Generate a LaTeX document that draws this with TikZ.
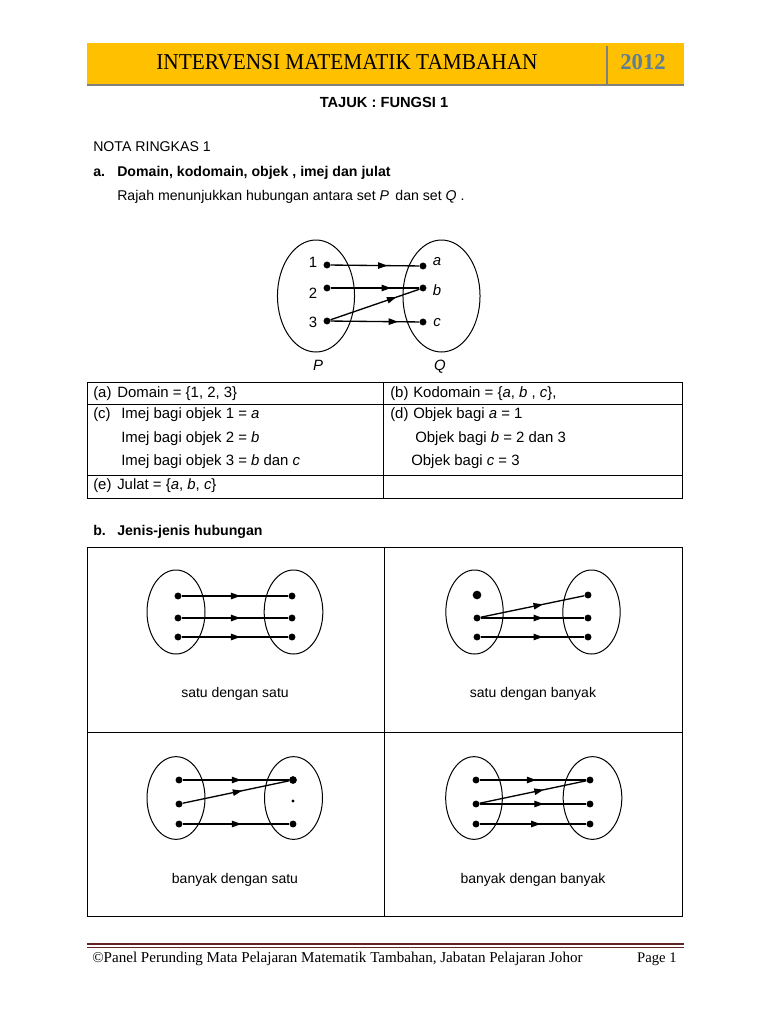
\documentclass[tikz,border=0pt]{standalone}
\usepackage{graphicx}
\usepackage{fontspec}
\setmainfont{Liberation Sans}
\newfontfamily\serifhd{Liberation Serif}
\usetikzlibrary{arrows.meta,decorations.markings}
\definecolor{hdryellow}{RGB}{255,192,0}
\definecolor{hdrgray}{RGB}{128,128,128}
\definecolor{yrblue}{RGB}{92,126,152}
\definecolor{ftred}{RGB}{99,36,35}
\tikzset{
 dotnode/.style={circle,fill=black,inner sep=0pt,minimum size=5.2pt},
 arr/.style={line width=1pt, decoration={markings,mark=at position #1 with {\arrow{Triangle[length=7pt,width=4.8pt]}}}, postaction={decorate}},
 arr/.default=0.55,
 setell/.style={line width=0.75pt},
 rule/.style={line width=0.75pt},
 txt/.style={anchor=base west,inner sep=0pt,font=\fontsize{10.6}{13}\selectfont},
 btxt/.style={anchor=base west,inner sep=0pt,font=\fontsize{10.6}{13}\selectfont\bfseries},
 ttxt/.style={anchor=base west,inner sep=0pt,font=\fontsize{11.2}{14}\selectfont},
 lbl/.style={anchor=base,inner sep=0pt,font=\fontsize{11.2}{14}\selectfont},
 captxt/.style={anchor=base,inner sep=0pt,font=\fontsize{10.5}{13}\selectfont},
}
\begin{document}
\begin{tikzpicture}[x=0.75pt,y=-0.75pt]
\useasboundingbox[fill=white] (0,0) rectangle (768,1024);
% header
\fill[hdryellow] (87,43) rectangle (684,84);
\draw[hdrgray,line width=1.5pt] (87,85) -- (684,85);
\draw[hdrgray,line width=1.5pt] (607,46) -- (607,84);
\node[inner sep=0pt,font=\serifhd\fontsize{17}{20}\selectfont] (title) at (347,62) {\scalebox{0.94}[1]{INTERVENSI MATEMATIK TAMBAHAN}};
\node[inner sep=0pt,text=yrblue,font=\serifhd\fontsize{17}{20}\selectfont\bfseries] (year) at (643,62) {2012};
% headings
\node[anchor=base,inner sep=0pt,font=\fontsize{11}{13}\selectfont\bfseries] (tajuk) at (384,108) {TAJUK : FUNGSI 1};
\node[txt] (nota) at (93,151) {NOTA RINGKAS 1};
\node[btxt] (alab) at (93,176) {a.};
\node[btxt] (ahead) at (117,176) {Domain, kodomain, objek , imej dan julat};
\node[txt] (rajah) at (117,200) {Rajah menunjukkan hubungan antara set \textit{P}\, dan set \textit{Q} .};
% main diagram
\draw[setell] (316,296) ellipse [x radius=28.9pt, y radius=42pt];
\draw[setell] (441.5,296) ellipse [x radius=28.9pt, y radius=42pt];
\node[dotnode] (p1) at (327,265) {};
\node[dotnode] (p2) at (327,288) {};
\node[dotnode] (p3) at (327,321) {};
\node[dotnode] (qa) at (423,266) {};
\node[dotnode] (qb) at (423,288) {};
\node[dotnode] (qc) at (423,322) {};
\node[lbl] (l1) at (313,267) {1};
\node[lbl] (l2) at (313,298) {2};
\node[lbl] (l3) at (313,327) {3};
\node[lbl] (la) at (437,265) {\textit{a}};
\node[lbl] (lb) at (437,295) {\textit{b}};
\node[lbl] (lc) at (437,326) {\textit{c}};
\node[lbl] (lP) at (318,370) {\textit{P}};
\node[lbl] (lQ) at (440,370) {\textit{Q}};
\draw[arr=0.64] (p1) -- (qa);
\draw[arr=0.68] (p2) -- (qb);
\draw[arr=0.74] (p3) -- (qb);
\draw[arr=0.76] (p3) -- (qc);
% table
\draw[rule] (87,382) rectangle (682,498);
\draw[rule] (87,404) -- (682,404);
\draw[rule] (87,475) -- (682,475);
\draw[rule] (383,382) -- (383,498);
\node[ttxt] (ta) at (93,397) {(a)};
\node[ttxt] (tat) at (117,397) {Domain = \{1, 2, 3\}};
\node[ttxt] (tb) at (390,397) {(b)};
\node[ttxt] (tbt) at (413,397) {Kodomain = \{\textit{a}, \textit{b} , \textit{c}\},};
\node[ttxt] (tc) at (93,418) {(c)};
\node[ttxt] (tc1) at (121,418) {Imej bagi objek 1 = \textit{a}};
\node[ttxt] (tc2) at (121,442) {Imej bagi objek 2 = \textit{b}};
\node[ttxt] (tc3) at (121,465) {Imej bagi objek 3 = \textit{b} dan \textit{c}};
\node[ttxt] (td) at (390,418) {(d)};
\node[ttxt] (td1) at (413,418) {Objek bagi \textit{a} = 1};
\node[ttxt] (td2) at (415,442) {Objek bagi \textit{b} = 2 dan 3};
\node[ttxt] (td3) at (411,465) {Objek bagi \textit{c} = 3};
\node[ttxt] (te) at (93,489) {(e)};
\node[ttxt] (tet) at (117,489) {Julat = \{\textit{a}, \textit{b}, \textit{c}\}};
% part b
\node[btxt] (blab) at (93,535) {b.};
\node[btxt] (bhead) at (117,535) {Jenis-jenis hubungan};
\draw[rule] (87,547) rectangle (682,916);
\draw[rule] (384,547) -- (384,916);
\draw[rule] (87,732) -- (682,732);
% one to one
\draw[setell] (176,612) ellipse [x radius=21.75pt, y radius=31.5pt];
\draw[setell] (293.5,612) ellipse [x radius=22pt, y radius=31.5pt];
\node[dotnode] (a1) at (178,596) {};
\node[dotnode] (a2) at (178,618) {};
\node[dotnode] (a3) at (178,637) {};
\node[dotnode] (b1) at (292,596) {};
\node[dotnode] (b2) at (292,618) {};
\node[dotnode] (b3) at (292,637) {};
\draw[arr=0.55] (a1) -- (b1);
\draw[arr=0.55] (a2) -- (b2);
\draw[arr=0.55] (a3) -- (b3);
\node[captxt] (c1) at (235,697) {satu dengan satu};
% one to many
\draw[setell] (474.5,612) ellipse [x radius=21.5pt, y radius=31.5pt];
\draw[setell] (591.5,612) ellipse [x radius=21.5pt, y radius=31.5pt];
\node[dotnode,minimum size=6.5pt] (c1a) at (477,595) {};
\node[dotnode] (c1b) at (477,618) {};
\node[dotnode] (c1c) at (477,637) {};
\node[dotnode] (d1a) at (588,595) {};
\node[dotnode] (d1b) at (588,618) {};
\node[dotnode] (d1c) at (588,637) {};
\draw[arr=0.6] (c1b) -- (d1a);
\draw[arr=0.6] (c1b) -- (d1b);
\draw[arr=0.6] (c1c) -- (d1c);
\node[captxt] (c2) at (533,697) {satu dengan banyak};
% many to one
\draw[setell] (176,798) ellipse [x radius=21.75pt, y radius=31pt];
\draw[setell] (293.5,798) ellipse [x radius=21.75pt, y radius=31pt];
\node[dotnode] (e1) at (179,780) {};
\node[dotnode] (e2) at (179,804) {};
\node[dotnode] (e3) at (179,824) {};
\node[dotnode,minimum size=5.8pt] (f1) at (293,780) {};
\node[dotnode,minimum size=2.6pt] (f2) at (293,801) {};
\node[dotnode] (f3) at (293,824) {};
\draw[arr=0.55] (e1) -- (f1);
\draw[arr=0.56] (e2) -- (f1);
\draw[arr=0.55] (e3) -- (f3);
\node[captxt] (c3) at (235,883) {banyak dengan satu};
% many to many
\draw[setell] (474,798) ellipse [x radius=21.25pt, y radius=31pt];
\draw[setell] (592.5,798) ellipse [x radius=22pt, y radius=31pt];
\node[dotnode] (g1) at (476,780) {};
\node[dotnode] (g2) at (476,804) {};
\node[dotnode] (g3) at (476,824) {};
\node[dotnode] (h1) at (590,780) {};
\node[dotnode] (h2) at (590,804) {};
\node[dotnode] (h3) at (590,824) {};
\draw[arr=0.53] (g1) -- (h1);
\draw[arr=0.6] (g2) -- (h1);
\draw[arr=0.6] (g2) -- (h2);
\draw[arr=0.57] (g3) -- (h3);
\node[captxt] (c4) at (533,883) {banyak dengan banyak};
% footer
\draw[ftred,line width=2pt] (87,944) -- (684,944);
\draw[ftred,line width=0.7pt] (87,947.8) -- (684,947.8);
\node[anchor=base west,inner sep=0pt,font=\serifhd\fontsize{11.3}{13}\selectfont] (foot) at (92,962) {©Panel Perunding Mata Pelajaran Matematik Tambahan, Jabatan Pelajaran Johor};
\node[anchor=base east,inner sep=0pt,font=\serifhd\fontsize{11}{13}\selectfont] (page) at (677,962) {Page 1};
\end{tikzpicture}
\end{document}
